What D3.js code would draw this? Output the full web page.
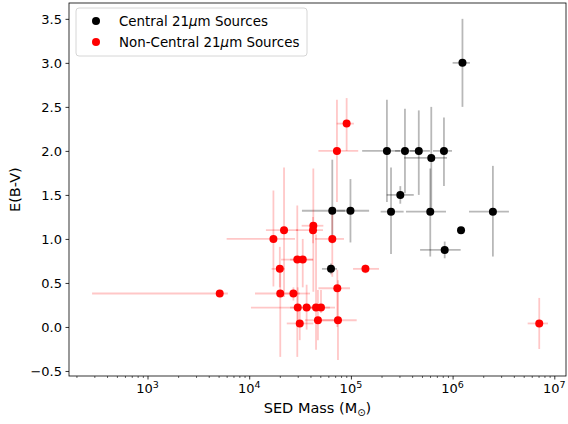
<!DOCTYPE html>
<html>
<head>
<meta charset="utf-8">
<script src="https://cdn.jsdelivr.net/npm/d3@7"></script>
<style>
body { margin: 0; background: #fff; }
text { font-family: "DejaVu Sans", sans-serif; }
</style>
</head>
<body>
<div id="chart"></div>
<script>
// central 21um sources
var cMass   = [1.25e6, 2.26e5, 3.40e5, 4.65e5, 6.17e5, 8.22e5, 3.06e5, 2.48e5, 6.03e5, 2.49e6, 1.21e6, 8.36e5, 9.9e4, 6.56e4, 6.37e4];
var cMassLo = [1.0e6, 1.29e5, 2.72e5, 3.8e5, 3.33e5, 6.41e5, 2.25e5, 1.96e5, 3.48e5, 1.45e6, 1.21e6, 4.79e5, 7.3e4, 3.3e4, 5.19e4];
var cMassHi = [1.48e6, 3.04e5, 4.27e5, 5.98e5, 8.81e5, 9.86e5, 4.15e5, 3.30e5, 8.61e5, 3.58e6, 1.21e6, 1.20e6, 1.51e5, 8.75e4, 7.3e4];
var cEbv    = [3.0, 2.0, 2.0, 2.0, 1.92, 2.0, 1.5, 1.31, 1.31, 1.31, 1.1, 0.875, 1.32, 1.32, 0.66];
var cEbvLo  = [2.5, 1.42, 1.52, 1.5, 1.31, 1.6, 1.4, 0.83, 0.8, 0.8, 1.1, 0.78, 0.96, 0.95, 0.6];
var cEbvHi  = [3.5, 2.58, 2.48, 2.46, 2.5, 2.38, 1.6, 1.81, 1.8, 1.83, 1.1, 0.97, 1.68, 1.9, 0.72];

// non-central 21um sources
var nMass   = [5.13e3, 1.73e4, 2.20e4, 2.0e4, 2.02e4, 2.72e4, 2.97e4, 3.36e4, 3.0e4, 3.14e4, 3.67e4, 4.27e4, 4.24e4, 4.54e4, 5.08e4, 4.74e4, 6.56e4, 7.29e4, 9.08e4, 7.35e4, 7.46e4, 1.39e5, 7.11e6];
var nMassLo = [285, 6.0e3, 1.46e4, 1.66e4, 1.14e4, 2.25e4, 2.06e4, 2.52e4, 1.04e4, 2.34e4, 2.52e4, 3.28e4, 2.88e4, 3.54e4, 3.96e4, 3.54e4, 4.44e4, 4.79e4, 7.24e4, 4.79e4, 5.16e4, 1.05e5, 5.47e6];
var nMassHi = [6.17e3, 2.82e4, 3.02e4, 2.25e4, 3.16e4, 3.96e4, 4.25e4, 4.25e4, 4.14e4, 4.27e4, 4.97e4, 5.36e4, 5.32e4, 6.22e4, 6.98e4, 7.46e4, 8.55e4, 1.18e5, 1.07e5, 9.8e4, 1.14e5, 1.89e5, 8.67e6];
var nEbv    = [0.38, 1.0, 1.1, 0.66, 0.38, 0.38, 0.765, 0.765, 0.22, 0.04, 0.22, 1.15, 1.1, 0.22, 0.22, 0.076, 1.0, 2.0, 2.31, 0.44, 0.076, 0.66, 0.04];
var nEbvLo  = [0.35, 0.46, 0.34, 0.45, -0.34, 0.3, -0.34, 0.45, 0.0, -0.15, -0.03, 0.4, 0.95, -0.26, 0.16, -0.15, 0.57, 1.42, 2.0, 0.0, -0.375, 0.61, -0.25];
var nEbvHi  = [0.41, 1.55, 1.81, 0.91, 0.66, 0.45, 1.38, 1.0, 0.45, 0.2, 0.48, 1.8, 1.25, 1.05, 0.42, 0.42, 1.32, 2.58, 2.6, 0.65, 0.53, 0.71, 0.33];

var yTicks = [-0.5, 0.0, 0.5, 1.0, 1.5, 2.0, 2.5, 3.0, 3.5];
var xTicks = [1e3, 1e4, 1e5, 1e6, 1e7];

var width = 568, height = 424;
var pLeft = 69, pRight = 566, pTop = 3, pBottom = 376;

var svg = d3.select("#chart").append("svg")
  .attr("width", width)
  .attr("height", height);

var x = d3.scaleLog().domain([Math.pow(10, 2.228), Math.pow(10, 7.115)]).range([pLeft, pRight]);
var y = d3.scaleLinear().domain([-0.557, 3.68]).range([pBottom, pTop]);

function makeRows(m, mlo, mhi, e, elo, ehi) {
  return m.map(function(d, i) {
    return {m: d, mlo: mlo[i], mhi: mhi[i], e: e[i], elo: elo[i], ehi: ehi[i]};
  });
}
var central = makeRows(cMass, cMassLo, cMassHi, cEbv, cEbvLo, cEbvHi);
var nonCentral = makeRows(nMass, nMassLo, nMassHi, nEbv, nEbvLo, nEbvHi);

var plot = svg.append("g");

function errBars(rows, col, op) {
  var g = plot.append("g").attr("stroke", col).attr("stroke-opacity", op).attr("stroke-width", 1.8);
  g.selectAll(".xe").data(rows).enter().append("line")
    .attr("x1", function(d) { return x(d.mlo); })
    .attr("x2", function(d) { return x(d.mhi); })
    .attr("y1", function(d) { return y(d.e); })
    .attr("y2", function(d) { return y(d.e); });
  g.selectAll(".ye").data(rows).enter().append("line")
    .attr("x1", function(d) { return x(d.m); })
    .attr("x2", function(d) { return x(d.m); })
    .attr("y1", function(d) { return y(d.elo); })
    .attr("y2", function(d) { return y(d.ehi); });
}
errBars(central, "#000", 0.28);
errBars(nonCentral, "#ff0000", 0.22);

plot.selectAll(".cpt").data(central).enter().append("circle")
  .attr("cx", function(d) { return x(d.m); })
  .attr("cy", function(d) { return y(d.e); })
  .attr("r", 4)
  .attr("fill", "#000");
plot.selectAll(".npt").data(nonCentral).enter().append("circle")
  .attr("cx", function(d) { return x(d.m); })
  .attr("cy", function(d) { return y(d.e); })
  .attr("r", 4)
  .attr("fill", "#ff0000");

// frame
svg.append("rect")
  .attr("x", pLeft).attr("y", pTop)
  .attr("width", pRight - pLeft).attr("height", pBottom - pTop)
  .attr("fill", "none").attr("stroke", "#000").attr("stroke-width", 0.8);

// y axis
var yAxis = d3.axisLeft(y).tickValues(yTicks).tickSize(3.5).tickPadding(3.5)
  .tickFormat(function(d) { return d3.format(".1f")(d).replace("-", "\u2212"); });
var yg = svg.append("g").attr("transform", "translate(" + pLeft + ",0)").call(yAxis);
yg.select(".domain").remove();
yg.selectAll("text").attr("font-size", 13).attr("font-family", "DejaVu Sans").attr("fill", "#000");
yg.selectAll("line").attr("stroke-width", 0.8);

// x axis, minor ticks
var minor = [];
for (var p = 2; p <= 7; p++) {
  for (var k = 2; k <= 9; k++) {
    var v = k * Math.pow(10, p);
    if (v > x.domain()[0] && v < x.domain()[1]) minor.push(v);
  }
}
var xm = svg.append("g").attr("transform", "translate(0," + pBottom + ")")
  .call(d3.axisBottom(x).tickValues(minor).tickSize(2).tickFormat(""));
xm.select(".domain").remove();
xm.selectAll("line").attr("stroke-width", 0.6);

var xg = svg.append("g").attr("transform", "translate(0," + pBottom + ")")
  .call(d3.axisBottom(x).tickValues(xTicks).tickSize(3.5).tickFormat(""));
xg.select(".domain").remove();
xg.selectAll("line").attr("stroke-width", 0.8);

var xl = svg.append("g").selectAll("text").data(xTicks).enter().append("text")
  .attr("x", function(d) { return x(d); })
  .attr("y", 393)
  .attr("text-anchor", "middle")
  .attr("font-size", 13);
xl.append("tspan").text("10");
xl.append("tspan").attr("dy", -5).attr("font-size", 9.5)
  .text(function(d) { return Math.round(Math.log10(d)); });

// axis labels
var xlab = svg.append("text")
  .attr("x", (pLeft + pRight) / 2).attr("y", 413)
  .attr("text-anchor", "middle").attr("font-size", 14.5);
xlab.append("tspan").text("SED Mass (M");
xlab.append("tspan").attr("dy", 3).attr("font-size", 10).text("\u2299");
xlab.append("tspan").attr("dy", -3).text(")");

svg.append("text")
  .attr("transform", "translate(20," + y(1.56) + ") rotate(-90)")
  .attr("text-anchor", "middle").attr("font-size", 14.5)
  .text("E(B-V)");

// legend
var lg = svg.append("g");
lg.append("rect")
  .attr("x", 76).attr("y", 8).attr("width", 231).attr("height", 48).attr("rx", 3)
  .attr("fill", "#fff").attr("fill-opacity", 0.8)
  .attr("stroke", "#ccc").attr("stroke-width", 0.8);
var legendItems = [{label: "Central 21", col: "#000"}, {label: "Non-Central 21", col: "#ff0000"}];
legendItems.forEach(function(it, i) {
  var cy = 21 + i * 21;
  lg.append("circle").attr("cx", 96).attr("cy", cy).attr("r", 4).attr("fill", it.col);
  var t = lg.append("text").attr("x", 119).attr("y", cy + 5).attr("font-size", 13.4);
  t.append("tspan").text(it.label);
  t.append("tspan").attr("font-style", "italic").text("\u03bc");
  t.append("tspan").text("m Sources");
});
</script>
</body>
</html>
